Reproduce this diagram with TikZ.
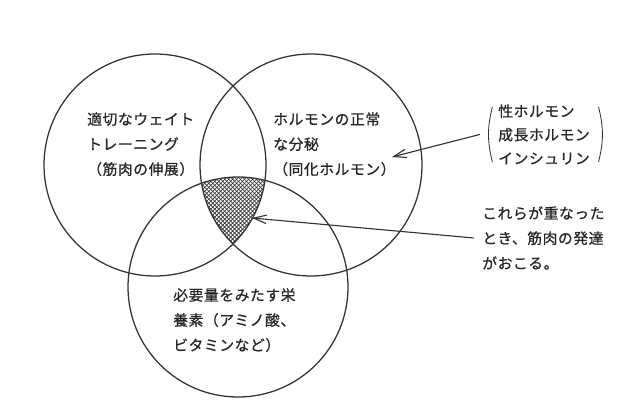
\documentclass[tikz,border=0pt]{standalone}
\usepackage{fontspec}
\setmainfont{Noto Sans CJK JP}[FakeBold=0.8, LetterSpace=4]
\usetikzlibrary{arrows.meta, positioning, patterns.meta}

\begin{document}
\begin{tikzpicture}[
    circ/.style={line width=0.9pt, black!80},
    label/.style={anchor=north west, align=left, inner sep=0pt, text=black!85,
        font=\fontsize{10.5}{17.8}\selectfont},
    pointer/.style={line width=0.8pt, black!80, -{Straight Barb[length=9pt,width=6pt]}}
]
    \useasboundingbox (0,0) rectangle (16,-10.2);

    % Circle centres
    \coordinate (L) at (3.875,-4.125);
    \coordinate (R) at (7.775,-4.125);
    \coordinate (B) at (5.95,-7.175);

    % Overlap of all three (hatched)
    \begin{scope}
        \clip (L) circle (2.775);
        \clip (R) circle (2.775);
        \fill[pattern={Lines[angle=45,distance=2pt,line width=0.5pt]}, pattern color=black!80] (B) circle (2.75);
        \fill[pattern={Lines[angle=-45,distance=2pt,line width=0.5pt]}, pattern color=black!80] (B) circle (2.75);
    \end{scope}

    % Circles
    \draw[circ] (L) circle (2.775);
    \draw[circ] (R) circle (2.775);
    \draw[circ] (B) circle (2.75);

    % Texts in the circles
    \node[label] (training) at (2.175,-2.8) {適切なウェイト\\トレーニング\\（筋肉の伸展）};
    \node[label] (hormone) at (6.825,-2.8) {ホルモンの正常\\な分秘\\（同化ホルモン）};
    \node[label] (nutrient) at (4.325,-7.2) {必要量をみたす栄\\養素（アミノ酸、\\ビタミンなど）};

    % Hormone list in brackets
    \node[label, font=\fontsize{10.5}{16.8}\selectfont] (hormones) at (12.45,-2.6) {性ホルモン\\成長ホルモン\\インシュリン};
    \draw[line width=0.6pt, black!80] ([xshift=-4pt,yshift=-2pt]hormones.north west) to[bend right=14] ([xshift=-4pt,yshift=2pt]hormones.south west);
    \draw[line width=0.6pt, black!80] ([xshift=6pt,yshift=-2pt]hormones.north east) to[bend left=14] ([xshift=6pt,yshift=2pt]hormones.south east);

    % Note on the overlap
    \node[label] (overlap) at (12.05,-5.15) {これらが重なった\\とき、筋肉の発達\\がおこる。};

    % Arrows
    \coordinate (tipA) at (9.8,-3.925);
    \coordinate (tipB) at (6.3,-5.45);
    \draw[pointer] ([xshift=-0.45cm]hormones.west) -- (tipA);
    \draw[pointer] ([xshift=-0.2cm]overlap.west) -- (tipB);
\end{tikzpicture}
\end{document}
